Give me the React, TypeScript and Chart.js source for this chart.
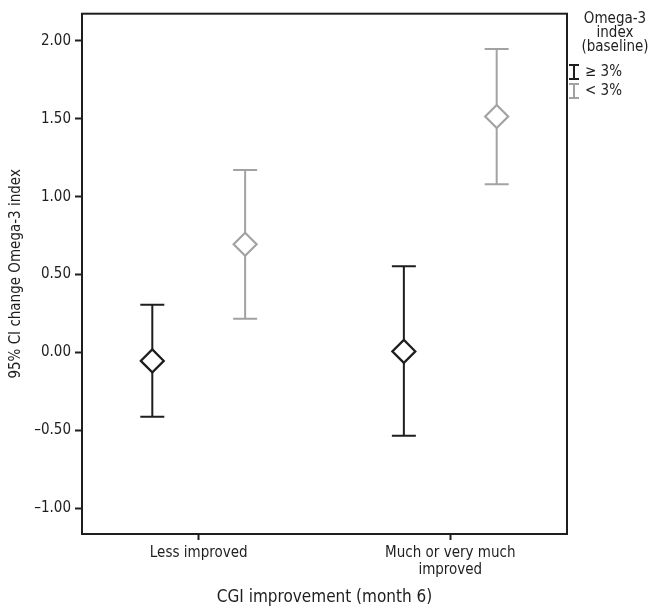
import React, { useEffect, useRef } from "react";
import { Chart, registerables } from "chart.js";
Chart.register(...registerables);

// ---- data ----
const categories: string[][] = [["Less improved"], ["Much or very much", "improved"]];
const seriesLabels = ["≥ 3%", "< 3%"];
const legendTitle = ["Omega-3", "index", "(baseline)"];
const xTitle = "CGI improvement (month 6)";
const yTitle = "95% CI change Omega-3 index";

const meanHigh = [-0.055, 0.006];
const lowerHigh = [-0.414, -0.536];
const upperHigh = [0.305, 0.553];

const meanLow = [0.694, 1.515];
const lowerLow = [0.216, 1.08];
const upperLow = [1.171, 1.948];

const yTicks = [-1, -0.5, 0, 0.5, 1, 1.5, 2];

// ---- styles ----
const FONT = "'Liberation Sans Narrow', 'Arial Narrow', 'DejaVu Sans Condensed', sans-serif";
const BLACK = "#1e1e1e";
const GRAY = "#a2a2a2";
const OFFSET = 0.1845;

function fmt(v: number) {
  const s = Math.abs(v).toFixed(2);
  return v < 0 ? "\u2013" + s : s;
}

const errorBarPlugin = {
  id: "errorBars",
  beforeDatasetsDraw(chart: any) {
    const ctx = chart.ctx;
    const y = chart.scales.y;
    chart.data.datasets.forEach((ds: any, i: number) => {
      const meta = chart.getDatasetMeta(i);
      meta.data.forEach((el: any, j: number) => {
        const x = el.x;
        const yl = y.getPixelForValue(ds.errLow[j]);
        const yh = y.getPixelForValue(ds.errHigh[j]);
        ctx.save();
        ctx.strokeStyle = ds.borderColor;
        ctx.lineWidth = 2;
        ctx.beginPath();
        ctx.moveTo(x, yl);
        ctx.lineTo(x, yh);
        ctx.moveTo(x - 12, yl);
        ctx.lineTo(x + 12, yl);
        ctx.moveTo(x - 12, yh);
        ctx.lineTo(x + 12, yh);
        ctx.stroke();
        ctx.restore();
      });
    });
  },
  afterDraw(chart: any) {
    const ctx = chart.ctx;
    const a = chart.chartArea;
    ctx.save();
    ctx.strokeStyle = BLACK;
    ctx.lineWidth = 2;
    ctx.strokeRect(a.left, a.top, a.right - a.left, a.bottom - a.top);
    // legend
    ctx.fillStyle = BLACK;
    ctx.font = "15px " + FONT;
    ctx.textAlign = "center";
    ctx.textBaseline = "middle";
    legendTitle.forEach((t, i) => ctx.fillText(t, 615, 19 + i * 14));
    chart.data.datasets.forEach((ds: any, i: number) => {
      const cy = 72 + i * 19;
      const cx = 574;
      ctx.strokeStyle = ds.borderColor;
      ctx.lineWidth = 2;
      ctx.beginPath();
      ctx.moveTo(cx, cy - 7);
      ctx.lineTo(cx, cy + 7);
      ctx.moveTo(cx - 5, cy - 7);
      ctx.lineTo(cx + 5, cy - 7);
      ctx.moveTo(cx - 5, cy + 7);
      ctx.lineTo(cx + 5, cy + 7);
      ctx.stroke();
      ctx.fillStyle = BLACK;
      ctx.textAlign = "left";
      ctx.fillText(ds.label, 585, cy);
    });
    ctx.restore();
  },
};

export default function App() {
  const ref = useRef<HTMLCanvasElement>(null);
  useEffect(() => {
    if (!ref.current) return;
    const mk = (label: string, color: string, mean: number[], lo: number[], hi: number[], off: number) => ({
      label,
      data: mean.map((m, i) => ({ x: i + off, y: m })),
      errLow: lo,
      errHigh: hi,
      borderColor: color,
      backgroundColor: "#ffffff",
      pointStyle: "rectRot",
      pointRadius: 11.5,
      pointHoverRadius: 11.5,
      pointBorderWidth: 2.2,
      showLine: false,
    });
    const chart = new Chart(ref.current, {
      type: "scatter",
      data: {
        datasets: [
          mk(seriesLabels[0], BLACK, meanHigh, lowerHigh, upperHigh, -OFFSET),
          mk(seriesLabels[1], GRAY, meanLow, lowerLow, upperLow, OFFSET),
        ] as any,
      },
      options: {
        animation: false,
        responsive: false,
        events: [],
        layout: { padding: { top: 4, right: 91, left: 0, bottom: 0 } },
        plugins: { legend: { display: false }, tooltip: { enabled: false } },
        scales: {
          x: {
            type: "linear",
            min: -0.464,
            max: 1.464,
            afterBuildTicks: (s: any) => {
              s.ticks = categories.map((_, i) => ({ value: i }));
            },
            afterFit: (s: any) => {
              s.height = 77;
            },
            border: { display: false },
            grid: { drawOnChartArea: false, drawTicks: true, tickLength: 6, tickWidth: 2, color: BLACK },
            ticks: {
              padding: 4,
              color: BLACK,
              font: { family: FONT, size: 15, lineHeight: 1.15 },
              maxRotation: 0,
              autoSkip: false,
              callback: (v: any) => categories[Math.round(Number(v))] ?? "",
            },
            title: {
              display: true,
              text: xTitle,
              color: BLACK,
              font: { family: FONT, size: 17 },
              padding: { top: 0, bottom: 3 },
            },
          },
          y: {
            min: -1.167,
            max: 2.175,
            afterBuildTicks: (s: any) => {
              s.ticks = yTicks.map((v) => ({ value: v }));
            },
            afterFit: (s: any) => {
              s.width = 82;
            },
            border: { display: false },
            grid: { drawOnChartArea: false, drawTicks: true, tickLength: 7, tickWidth: 2, color: BLACK },
            ticks: {
              padding: 4,
              color: BLACK,
              font: { family: FONT, size: 15 },
              callback: (v: any) => fmt(Number(v)),
            },
            title: {
              display: true,
              text: yTitle,
              color: BLACK,
              font: { family: FONT, size: 15 },
              padding: { top: 7, bottom: 0 },
            },
          },
        },
      } as any,
      plugins: [errorBarPlugin],
    });
    return () => chart.destroy();
  }, []);
  return (
    <div style={{ position: "fixed", left: 0, top: 0, width: 658, height: 611, background: "#fff" }}>
      <canvas ref={ref} width={658} height={611} style={{ display: "block" }} />
    </div>
  );
}
